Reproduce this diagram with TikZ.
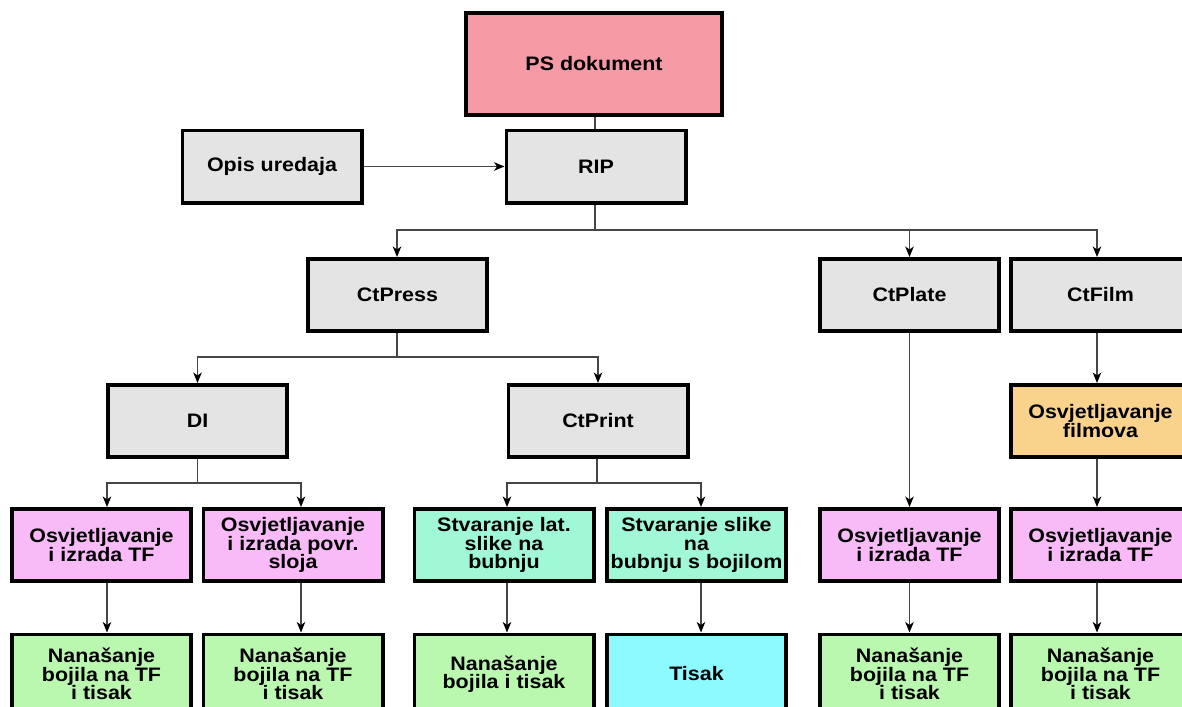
\documentclass[tikz,border=0pt]{standalone}
\usepackage{fontspec}
\newfontfamily\bxfont{Liberation Sans}[FakeStretch=1.1]
\usetikzlibrary{arrows.meta,calc}
\definecolor{cgrey}{RGB}{228,228,228}
\definecolor{cpink}{RGB}{246,154,165}
\definecolor{cmag}{RGB}{249,186,248}
\definecolor{cgreen}{RGB}{186,248,176}
\definecolor{cteal}{RGB}{160,248,214}
\definecolor{ccyan}{RGB}{140,250,255}
\definecolor{corange}{RGB}{249,210,140}
\definecolor{cline}{RGB}{70,70,70}
\begin{document}
\begin{tikzpicture}[x=1pt,y=-1pt,
  box/.style={draw=black,line width=3.6pt,inner sep=0pt,align=center,
    font=\bxfont\bfseries\fontsize{19.5}{18.3}\selectfont,
    minimum width=179.4pt,minimum height=72.4pt},
  lastrow/.style={box,minimum height=79.4pt},
  conn/.style={draw=cline,line width=1.2pt},
  arr/.style={conn,-{Stealth[length=10.5pt,width=8.5pt,inset=3pt,color=black]}}]
\useasboundingbox (0,0) rectangle (1182,706);
\clip (0,0) rectangle (1182,706);

% nodes
\node[box,fill=cpink,minimum width=256.4pt,minimum height=102.4pt] (PS) at (594,64) {PS dokument};
\node[box,fill=cgrey] (Opis) at (272,166.5) {Opis uredaja};
\node[box,fill=cgrey] (RIP) at (596,166.5) {RIP};
\node[box,fill=cgrey] (CtPress) at (397.5,295) {CtPress};
\node[box,fill=cgrey] (CtPlate) at (909.5,295) {CtPlate};
\node[box,fill=cgrey] (CtFilm) at (1100.5,295) {CtFilm};
\node[box,fill=cgrey] (DI) at (197.5,421) {DI};
\node[box,fill=cgrey] (CtPrint) at (598,421) {CtPrint};
\node[box,fill=corange] (OsvF) at (1100.5,421) {Osvjetljavanje\\filmova};

\node[box,fill=cmag] (A) at (101.5,545) {Osvjetljavanje\\i izrada TF};
\node[box,fill=cmag] (B) at (293,545) {Osvjetljavanje\\i izrada povr.\\sloja};
\node[box,fill=cteal] (C) at (504,545) {Stvaranje lat.\\slike na\\bubnju};
\node[box,fill=cteal] (D) at (696.5,545) {Stvaranje slike\\na\\bubnju s bojilom};
\node[box,fill=cmag] (E) at (909.5,545) {Osvjetljavanje\\i izrada TF};
\node[box,fill=cmag] (F) at (1100.5,545) {Osvjetljavanje\\i izrada TF};

\node[lastrow,fill=cgreen] (A5) at (101.5,674) {Nanašanje\\bojila na TF\\i tisak};
\node[lastrow,fill=cgreen] (B5) at (293,674) {Nanašanje\\bojila na TF\\i tisak};
\node[lastrow,fill=cgreen] (C5) at (504,674) {Nanašanje\\bojila i tisak};
\node[lastrow,fill=ccyan] (D5) at (696.5,674) {Tisak};
\node[lastrow,fill=cgreen] (E5) at (909.5,674) {Nanašanje\\bojila na TF\\i tisak};
\node[lastrow,fill=cgreen] (F5) at (1100.5,674) {Nanašanje\\bojila na TF\\i tisak};

% bus coordinates
\coordinate (b1) at (0,230);
\coordinate (b2) at (0,357);
\coordinate (b3) at (0,483);

% connectors
\draw[conn] ([xshift=-1pt]RIP.north |- PS.south) -- ([xshift=-1pt]RIP.north);
\draw[arr] (Opis.east) -- (RIP.west);

\draw[conn] ([xshift=-1pt]RIP.south) -- ([xshift=-1pt]RIP.south |- b1);
\draw[arr] ([xshift=-1pt]RIP.south |- b1) -| ([xshift=-0.5pt]CtPress.north);
\draw[arr] ([xshift=-1pt]RIP.south |- b1) -| (CtPlate.north);
\draw[arr] ([xshift=-1pt]RIP.south |- b1) -| ([xshift=-3.5pt]CtFilm.north);

\draw[conn] ([xshift=-0.5pt]CtPress.south) -- ([xshift=-0.5pt]CtPress.south |- b2);
\draw[arr] ([xshift=-0.5pt]CtPress.south |- b2) -| (DI.north);
\draw[arr] ([xshift=-0.5pt]CtPress.south |- b2) -| (CtPrint.north);

\draw[conn] (DI.south) -- (DI.south |- b3);
\draw[arr] (DI.south |- b3) -| ([xshift=5.5pt]A.north);
\draw[arr] (DI.south |- b3) -| ([xshift=8pt]B.north);

\draw[conn] ([xshift=-1pt]CtPrint.south) -- ([xshift=-1pt]CtPrint.south |- b3);
\draw[arr] ([xshift=-1pt]CtPrint.south |- b3) -| ([xshift=3pt]C.north);
\draw[arr] ([xshift=-1pt]CtPrint.south |- b3) -| ([xshift=4.5pt]D.north);

\draw[arr] (CtPlate.south) -- (E.north);
\draw[arr] ([xshift=-3.5pt]CtFilm.south) -- ([xshift=-3.5pt]OsvF.north);
\draw[arr] ([xshift=-3.5pt]OsvF.south) -- ([xshift=-3.5pt]F.north);

\draw[arr] ([xshift=5.5pt]A.south) -- ([xshift=5.5pt]A5.north);
\draw[arr] ([xshift=8pt]B.south) -- ([xshift=8pt]B5.north);
\draw[arr] ([xshift=3pt]C.south) -- ([xshift=3pt]C5.north);
\draw[arr] ([xshift=4.5pt]D.south) -- ([xshift=4.5pt]D5.north);
\draw[arr] (E.south) -- (E5.north);
\draw[arr] ([xshift=-3.5pt]F.south) -- ([xshift=-3.5pt]F5.north);
\end{tikzpicture}
\end{document}
